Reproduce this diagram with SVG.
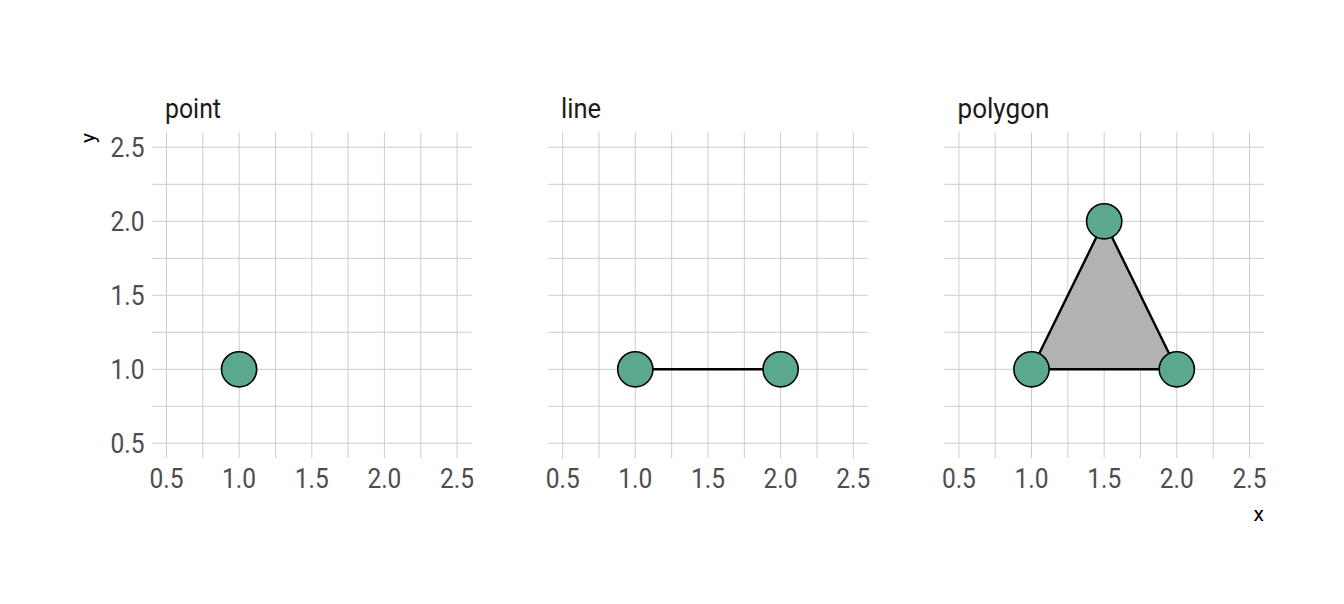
<svg xmlns="http://www.w3.org/2000/svg" width="1344" height="604" viewBox="0 0 1344 604">
<defs>
<style>
.grid line{stroke:#CCCCCC;stroke-width:1}
.tick{font-family:Roboto,"Liberation Sans",sans-serif;font-size:28px;fill:#4D4D4D}
.xt{text-anchor:middle}
.yt{text-anchor:end}
.strip{font-family:Roboto,"Liberation Sans",sans-serif;font-size:28px;fill:#1A1A1A}
.axt{font-family:Roboto,"Liberation Sans",sans-serif;font-size:21px;fill:#000}
.pt{fill:#5AA890;stroke:#000;stroke-width:1.6}
.edge{stroke:#000;stroke-width:2.4;fill:none}
</style>
</defs>
<rect width="1344" height="604" fill="#FFFFFF"/>

<g id="panel-point">
<g class="grid">
<line x1="152" y1="147.3" x2="471.6" y2="147.3"/><line x1="152" y1="184.3" x2="471.6" y2="184.3"/><line x1="152" y1="221.3" x2="471.6" y2="221.3"/><line x1="152" y1="258.3" x2="471.6" y2="258.3"/><line x1="152" y1="295.3" x2="471.6" y2="295.3"/><line x1="152" y1="332.3" x2="471.6" y2="332.3"/><line x1="152" y1="369.3" x2="471.6" y2="369.3"/><line x1="152" y1="406.3" x2="471.6" y2="406.3"/><line x1="152" y1="443.3" x2="471.6" y2="443.3"/>
<line x1="166.5" y1="132.5" x2="166.5" y2="458.1"/><line x1="202.8" y1="132.5" x2="202.8" y2="458.1"/><line x1="239.1" y1="132.5" x2="239.1" y2="458.1"/><line x1="275.5" y1="132.5" x2="275.5" y2="458.1"/><line x1="311.8" y1="132.5" x2="311.8" y2="458.1"/><line x1="348.1" y1="132.5" x2="348.1" y2="458.1"/><line x1="384.4" y1="132.5" x2="384.4" y2="458.1"/><line x1="420.8" y1="132.5" x2="420.8" y2="458.1"/><line x1="457.1" y1="132.5" x2="457.1" y2="458.1"/>
</g>
<text class="strip" x="165" y="117.5" textLength="56" lengthAdjust="spacingAndGlyphs">point</text>
<circle class="pt" cx="239.1" cy="369.3" r="17.6"/>
<text class="tick xt" x="166.5" y="488.3" textLength="34" lengthAdjust="spacingAndGlyphs">0.5</text>
<text class="tick xt" x="239.1" y="488.3" textLength="34" lengthAdjust="spacingAndGlyphs">1.0</text>
<text class="tick xt" x="311.8" y="488.3" textLength="34" lengthAdjust="spacingAndGlyphs">1.5</text>
<text class="tick xt" x="384.4" y="488.3" textLength="34" lengthAdjust="spacingAndGlyphs">2.0</text>
<text class="tick xt" x="457.1" y="488.3" textLength="34" lengthAdjust="spacingAndGlyphs">2.5</text>
<text class="tick yt" x="144.5" y="157.3" textLength="34" lengthAdjust="spacingAndGlyphs">2.5</text>
<text class="tick yt" x="144.5" y="231.3" textLength="34" lengthAdjust="spacingAndGlyphs">2.0</text>
<text class="tick yt" x="144.5" y="305.3" textLength="34" lengthAdjust="spacingAndGlyphs">1.5</text>
<text class="tick yt" x="144.5" y="379.3" textLength="34" lengthAdjust="spacingAndGlyphs">1.0</text>
<text class="tick yt" x="144.5" y="453.3" textLength="34" lengthAdjust="spacingAndGlyphs">0.5</text>
</g>

<g id="panel-line">
<g class="grid">
<line x1="548.2" y1="147.3" x2="867.8" y2="147.3"/><line x1="548.2" y1="184.3" x2="867.8" y2="184.3"/><line x1="548.2" y1="221.3" x2="867.8" y2="221.3"/><line x1="548.2" y1="258.3" x2="867.8" y2="258.3"/><line x1="548.2" y1="295.3" x2="867.8" y2="295.3"/><line x1="548.2" y1="332.3" x2="867.8" y2="332.3"/><line x1="548.2" y1="369.3" x2="867.8" y2="369.3"/><line x1="548.2" y1="406.3" x2="867.8" y2="406.3"/><line x1="548.2" y1="443.3" x2="867.8" y2="443.3"/>
<line x1="562.7" y1="132.5" x2="562.7" y2="458.1"/><line x1="599.0" y1="132.5" x2="599.0" y2="458.1"/><line x1="635.3" y1="132.5" x2="635.3" y2="458.1"/><line x1="671.7" y1="132.5" x2="671.7" y2="458.1"/><line x1="708.0" y1="132.5" x2="708.0" y2="458.1"/><line x1="744.3" y1="132.5" x2="744.3" y2="458.1"/><line x1="780.6" y1="132.5" x2="780.6" y2="458.1"/><line x1="817.0" y1="132.5" x2="817.0" y2="458.1"/><line x1="853.3" y1="132.5" x2="853.3" y2="458.1"/>
</g>
<text class="strip" x="561" y="117.5" textLength="40" lengthAdjust="spacingAndGlyphs">line</text>
<text class="tick xt" x="562.7" y="488.3" textLength="34" lengthAdjust="spacingAndGlyphs">0.5</text>
<text class="tick xt" x="635.3" y="488.3" textLength="34" lengthAdjust="spacingAndGlyphs">1.0</text>
<text class="tick xt" x="708.0" y="488.3" textLength="34" lengthAdjust="spacingAndGlyphs">1.5</text>
<text class="tick xt" x="780.6" y="488.3" textLength="34" lengthAdjust="spacingAndGlyphs">2.0</text>
<text class="tick xt" x="853.3" y="488.3" textLength="34" lengthAdjust="spacingAndGlyphs">2.5</text>
</g>

<g id="panel-polygon">
<g class="grid">
<line x1="944.4" y1="147.3" x2="1264" y2="147.3"/><line x1="944.4" y1="184.3" x2="1264" y2="184.3"/><line x1="944.4" y1="221.3" x2="1264" y2="221.3"/><line x1="944.4" y1="258.3" x2="1264" y2="258.3"/><line x1="944.4" y1="295.3" x2="1264" y2="295.3"/><line x1="944.4" y1="332.3" x2="1264" y2="332.3"/><line x1="944.4" y1="369.3" x2="1264" y2="369.3"/><line x1="944.4" y1="406.3" x2="1264" y2="406.3"/><line x1="944.4" y1="443.3" x2="1264" y2="443.3"/>
<line x1="958.9" y1="132.5" x2="958.9" y2="458.1"/><line x1="995.2" y1="132.5" x2="995.2" y2="458.1"/><line x1="1031.5" y1="132.5" x2="1031.5" y2="458.1"/><line x1="1067.9" y1="132.5" x2="1067.9" y2="458.1"/><line x1="1104.2" y1="132.5" x2="1104.2" y2="458.1"/><line x1="1140.5" y1="132.5" x2="1140.5" y2="458.1"/><line x1="1176.8" y1="132.5" x2="1176.8" y2="458.1"/><line x1="1213.2" y1="132.5" x2="1213.2" y2="458.1"/><line x1="1249.5" y1="132.5" x2="1249.5" y2="458.1"/>
</g>
<text class="strip" x="957.5" y="117.5" textLength="92" lengthAdjust="spacingAndGlyphs">polygon</text>
<text class="tick xt" x="958.9" y="488.3" textLength="34" lengthAdjust="spacingAndGlyphs">0.5</text>
<text class="tick xt" x="1031.5" y="488.3" textLength="34" lengthAdjust="spacingAndGlyphs">1.0</text>
<text class="tick xt" x="1104.2" y="488.3" textLength="34" lengthAdjust="spacingAndGlyphs">1.5</text>
<text class="tick xt" x="1176.8" y="488.3" textLength="34" lengthAdjust="spacingAndGlyphs">2.0</text>
<text class="tick xt" x="1249.5" y="488.3" textLength="34" lengthAdjust="spacingAndGlyphs">2.5</text>
</g>

<g id="connectors">
<line class="edge" x1="635.3" y1="369.3" x2="780.6" y2="369.3"/>
<polygon class="edge" points="1031.5,369.3 1104.2,221.3 1176.8,369.3" style="fill:#B2B2B2" stroke-linejoin="round"/>
</g>

<g id="nodes">
<circle id="line-p1" class="pt" cx="635.3" cy="369.3" r="17.6"/>
<circle id="line-p2" class="pt" cx="780.6" cy="369.3" r="17.6"/>
<circle id="poly-p1" class="pt" cx="1031.5" cy="369.3" r="17.6"/>
<circle id="poly-p2" class="pt" cx="1104.2" cy="221.3" r="17.6"/>
<circle id="poly-p3" class="pt" cx="1176.8" cy="369.3" r="17.6"/>
</g>

<g id="axis-titles">
<text class="axt" x="1264" y="521" text-anchor="end">x</text>
<text class="axt" x="95" y="133" text-anchor="end" transform="rotate(-90 95 133)">y</text>
</g>
</svg>
